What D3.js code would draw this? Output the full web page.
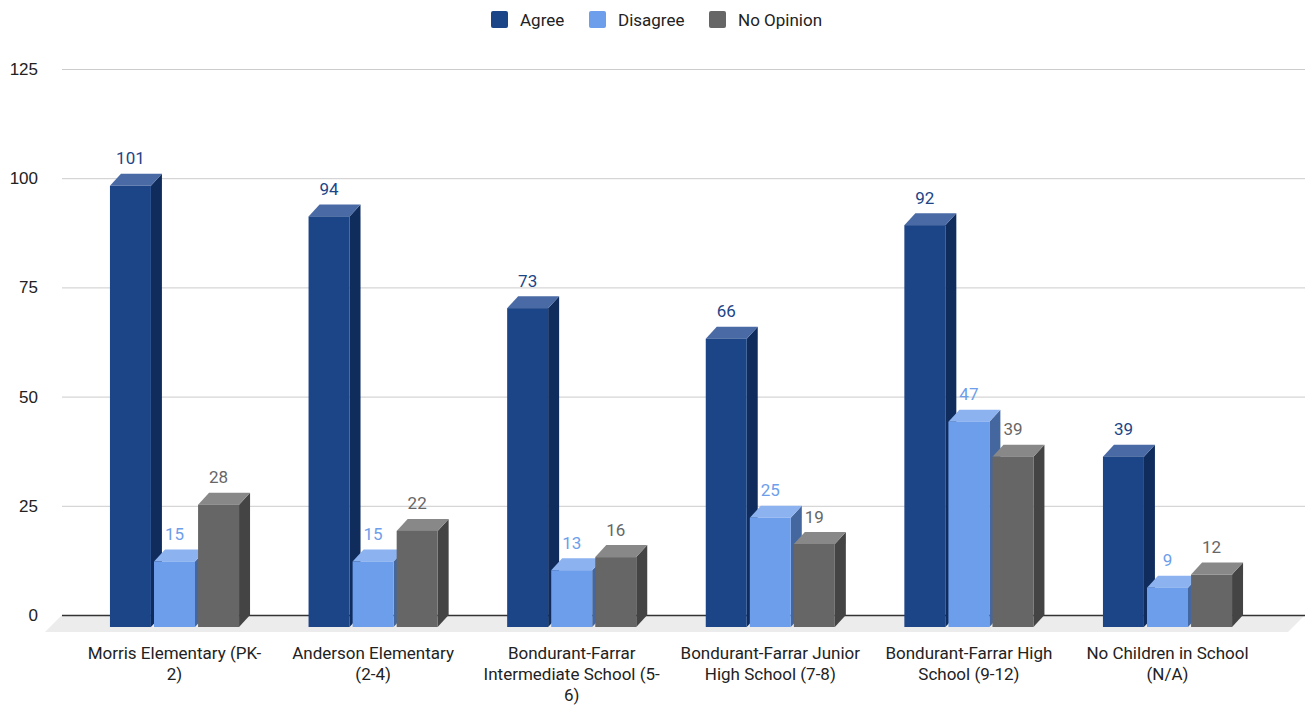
<!DOCTYPE html>
<html>
<head>
<meta charset="utf-8">
<script src="https://cdn.jsdelivr.net/npm/d3@7"></script>
<style>
  html, body { margin: 0; padding: 0; background: #fff; }
  svg { display: block; font-family: Roboto, "Noto Sans", sans-serif; }
</style>
</head>
<body>
<svg id="chart" width="1307" height="708"></svg>
<script>
const categories = [
  "Morris Elementary (PK-\n2)",
  "Anderson Elementary\n(2-4)",
  "Bondurant-Farrar\nIntermediate School (5-\n6)",
  "Bondurant-Farrar Junior\nHigh School (7-8)",
  "Bondurant-Farrar High\nSchool (9-12)",
  "No Children in School\n(N/A)"
];
const seriesNames = ["Agree", "Disagree", "No Opinion"];
const agree = [101, 94, 73, 66, 92, 39];
const disagree = [15, 15, 13, 25, 47, 9];
const noOpinion = [28, 22, 16, 19, 39, 12];
const yTicks = [0, 25, 50, 75, 100, 125];

const seriesValues = [agree, disagree, noOpinion];
const colors = {
  "Agree":      { front: "#1c4587", side: "#0f2c5d", top: "#4a6aa5", label: "#1c4587" },
  "Disagree":   { front: "#6d9eeb", side: "#45679f", top: "#8cb2f0", label: "#6d9eeb" },
  "No Opinion": { front: "#666666", side: "#444444", top: "#888888", label: "#666666" }
};
const FS = "17px";

const svg = d3.select("#chart");
const DX = 11, DY = 12;   // 3D depth offset (front face is shifted left/down)

const y = d3.scaleLinear().domain([0, 125]).range([615, 69]);
const x0 = d3.scaleBand().domain(categories).range([75.2, 1266.8]).paddingInner(0.35).paddingOuter(0.175);
const x1 = d3.scaleBand().domain(seriesNames).range([0, x0.bandwidth()]).paddingInner(0.07);

// floor
const gx0 = 62, gx1 = 1305, floorDepth = 17;
svg.append("path")
  .attr("d", `M${gx0},${y(0)} L${gx1},${y(0)} L${gx1 - floorDepth},${y(0) + floorDepth} L${gx0 - floorDepth},${y(0) + floorDepth} Z`)
  .attr("fill", "#ececec");

// gridlines
const yAxis = d3.axisLeft(y).tickValues(yTicks).tickSize(-(gx1 - gx0)).tickPadding(24);
const ga = svg.append("g").attr("transform", `translate(${gx0},0)`).call(yAxis);
ga.select(".domain").remove();
ga.selectAll(".tick line").attr("stroke", (d) => d === 0 ? "#333" : "#cccccc").attr("stroke-width", (d) => d === 0 ? 1.5 : 1);
ga.selectAll(".tick text").attr("fill", "#222").style("font-size", FS).attr("text-anchor", "end").attr("x", -24);

// bars
const gBars = svg.append("g");
categories.forEach((cat, ci) => {
  seriesNames.forEach((s, si) => {
    const v = seriesValues[si][ci];
    const c = colors[s];
    const xl = x0(cat) + x1(s);
    const w = x1.bandwidth();
    const yt = y(v) + DY;          // front top
    const yb = y(0) + DY;          // front bottom
    const g = gBars.append("g");
    g.append("path")
      .attr("d", `M${xl + w},${yt} L${xl + w + DX},${yt - DY} L${xl + w + DX},${yb - DY} L${xl + w},${yb} Z`)
      .attr("fill", c.side);
    g.append("path")
      .attr("d", `M${xl},${yt} L${xl + DX},${yt - DY} L${xl + w + DX},${yt - DY} L${xl + w},${yt} Z`)
      .attr("fill", c.top);
    g.append("rect")
      .attr("x", xl).attr("y", yt).attr("width", w).attr("height", yb - yt)
      .attr("fill", c.front);
  });
});

// value labels
const gLabels = svg.append("g");
categories.forEach((cat, ci) => {
  seriesNames.forEach((s, si) => {
    const v = seriesValues[si][ci];
    gLabels.append("text")
      .attr("x", x0(cat) + x1(s) + x1.bandwidth() / 2)
      .attr("y", y(v) - 9.5)
      .attr("text-anchor", "middle")
      .attr("fill", colors[s].label)
      .style("font-size", FS)
      .text(v);
  });
});

// category labels
const gCat = svg.append("g");
categories.forEach((cat) => {
  const t = gCat.append("text")
    .attr("text-anchor", "middle")
    .attr("fill", "#222")
    .style("font-size", FS);
  cat.split("\n").forEach((line, i) => {
    t.append("tspan")
      .attr("x", x0(cat) + x0.bandwidth() / 2)
      .attr("y", 659 + i * 21)
      .text(line);
  });
});

// legend
const legendItems = [
  { name: "Agree", x: 491 },
  { name: "Disagree", x: 589 },
  { name: "No Opinion", x: 709 }
];
const gLeg = svg.append("g");
legendItems.forEach((it) => {
  gLeg.append("rect")
    .attr("x", it.x).attr("y", 11).attr("width", 17).attr("height", 17).attr("rx", 2)
    .attr("fill", colors[it.name].front);
  gLeg.append("text")
    .attr("x", it.x + 29).attr("y", 26)
    .attr("fill", "#222")
    .style("font-size", FS)
    .text(it.name);
});
</script>
</body>
</html>
